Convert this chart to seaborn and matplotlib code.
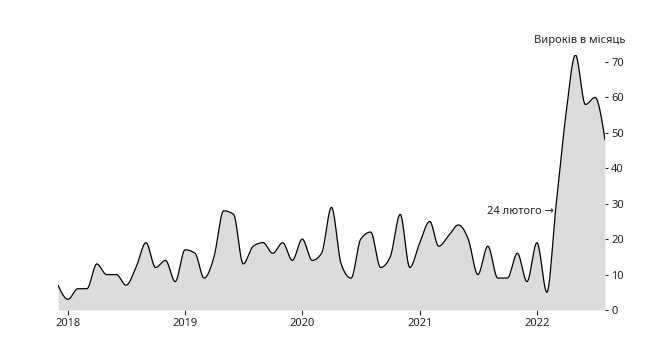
import numpy as np
import pandas as pd
import matplotlib
matplotlib.use("Agg")
import matplotlib.pyplot as plt
import matplotlib.dates as mdates
import seaborn as sns

# ---- data ----
months = pd.date_range("2017-12-01", "2022-08-01", freq="MS")
verdicts = [7,
            3, 6, 6, 13, 10, 10, 7, 12, 19, 12, 14, 8,
            17, 16, 9, 15, 28, 27, 13, 18, 19, 16, 19, 14,
            20, 14, 16, 29, 13, 9, 20, 22, 12, 15, 27, 12,
            19, 25, 18, 21, 24, 20, 10, 18, 9, 9, 16, 8,
            19, 5, 29, 55, 72, 58, 60, 48]
year_ticks = ["2018", "2019", "2020", "2021", "2022"]
y_ticks = [0, 10, 20, 30, 40, 50, 60, 70]
axis_title = "Вироків в місяць"
annotation_text = "24 лютого →"
annotation_date = "2022-02-24"
annotation_value = 27.7


def monotone_x(x, y, n=30):
    """d3 curveMonotoneX (Steffen) rendering of the series."""
    x = np.asarray(x, float)
    y = np.asarray(y, float)
    h = np.diff(x)
    s = np.diff(y) / h
    t = np.zeros_like(y)
    for i in range(1, len(y) - 1):
        s0, s1, h0, h1 = s[i - 1], s[i], h[i - 1], h[i]
        p = (s0 * h1 + s1 * h0) / (h0 + h1)
        t[i] = (np.sign(s0) + np.sign(s1)) * min(abs(s0), abs(s1), 0.5 * abs(p))
    t[0] = (3 * s[0] - t[1]) / 2
    t[-1] = (3 * s[-1] - t[-2]) / 2
    xs, ys = [], []
    for i in range(len(y) - 1):
        u = np.linspace(0, 1, n, endpoint=(i == len(y) - 2))
        h00 = 2 * u**3 - 3 * u**2 + 1
        h10 = u**3 - 2 * u**2 + u
        h01 = -2 * u**3 + 3 * u**2
        h11 = u**3 - u**2
        xs.append(x[i] + u * h[i])
        ys.append(h00 * y[i] + h10 * h[i] * t[i] + h01 * y[i + 1] + h11 * h[i] * t[i + 1])
    return np.concatenate(xs), np.concatenate(ys)


sns.set_theme(style="white")
plt.rcParams["font.family"] = ["Noto Sans", "DejaVu Sans"]

W, H = 659, 357
fig = plt.figure(figsize=(W / 100, H / 100), dpi=100)
ymax = 72
pxu = (310 - 62) / 70
ax = fig.add_axes([58 / W, 47 / H, 547 / W, ymax * pxu / H])

xnum = mdates.date2num(months)
sx, sy = monotone_x(xnum, verdicts)
df = pd.DataFrame({"date": mdates.num2date(sx), "value": sy})
df["date"] = df["date"].dt.tz_localize(None)

ax.fill_between(df["date"], 0, df["value"], color="#dcdcdc", linewidth=0)
sns.lineplot(data=df, x="date", y="value", ax=ax, color="black", linewidth=0.9)

ax.set_xlim(months[0], months[-1])
ax.set_ylim(0, ymax)
for sp in ax.spines.values():
    sp.set_visible(False)

ax.set_xticks([pd.Timestamp(f"{y}-01-01") for y in year_ticks])
ax.set_xticklabels(year_ticks)
ax.yaxis.tick_right()
ax.set_yticks(y_ticks)
ax.set_yticklabels([str(v) for v in y_ticks])
ax.tick_params(axis="x", bottom=True, length=3.5, width=0.8, pad=2,
               labelsize=8, colors="#222222")
ax.tick_params(axis="y", right=True, left=False, length=2, width=0.8, pad=2.5,
               labelsize=8, colors="#222222")
ax.set_xlabel("")
ax.set_ylabel("")
ax.grid(False)

ax.text(pd.Timestamp(annotation_date), annotation_value, annotation_text,
        ha="right", va="center", fontsize=8, color="#222222")
fig.text(625 / W, 1 - 40 / H, axis_title, ha="right", va="center",
         fontsize=8, color="#222222")

fig.savefig("out.png", dpi=100, facecolor="white")
